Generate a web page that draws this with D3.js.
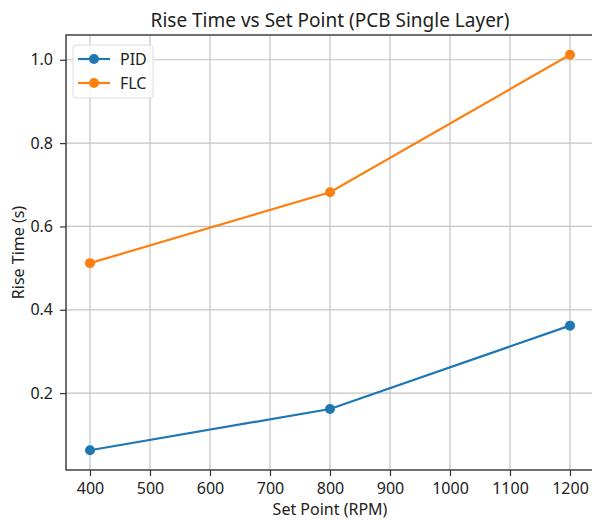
<!DOCTYPE html>
<html>
<head>
<meta charset="utf-8">
<script src="https://cdn.jsdelivr.net/npm/d3@7"></script>
<style>
  body { margin: 0; background: #fff; }
  text { font-family: "Noto Sans", sans-serif; fill: #222; }
</style>
</head>
<body>
<div id="chart"></div>
<script>
width = 592
height = 521

// data
let setPoints = [400, 800, 1200]
let pidRise = [0.063, 0.162, 0.362]
let flcRise = [0.512, 0.682, 1.012]
let xTicks = [400, 500, 600, 700, 800, 900, 1000, 1100, 1200]
let yTicks = [0.2, 0.4, 0.6, 0.8, 1.0]

let series = [
    { name: "PID", values: pidRise, color: "#1f77b4" },
    { name: "FLC", values: flcRise, color: "#ff7f0e" }
]

let margin = { left: 66, top: 35, right: -2, bottom: 51 }

let svg = d3.select("#chart")
    .append("svg")
    .attr("width", width)
    .attr("height", height)

// matplotlib style 5% padding
let xPad = (d3.max(setPoints) - d3.min(setPoints)) * 0.05
let allY = pidRise.concat(flcRise)
let yPad = (d3.max(allY) - d3.min(allY)) * 0.05

let x = d3.scaleLinear()
    .domain([d3.min(setPoints) - xPad, d3.max(setPoints) + xPad])
    .range([margin.left, width - margin.right])

let y = d3.scaleLinear()
    .domain([d3.min(allY) - yPad, d3.max(allY) + yPad])
    .range([height - margin.bottom, margin.top])

let plot = svg.append("g")

// grid
plot.append("g")
    .selectAll("line")
    .data(xTicks)
    .join("line")
    .attr("x1", d => x(d)).attr("x2", d => x(d))
    .attr("y1", y.range()[0]).attr("y2", y.range()[1])
    .attr("stroke", "#c4c4c4")
    .attr("stroke-width", 1.2)

plot.append("g")
    .selectAll("line")
    .data(yTicks)
    .join("line")
    .attr("x1", x.range()[0]).attr("x2", x.range()[1])
    .attr("y1", d => y(d)).attr("y2", d => y(d))
    .attr("stroke", "#c4c4c4")
    .attr("stroke-width", 1.2)

// axes
let xAxis = svg.append("g")
    .attr("transform", "translate(0," + y.range()[0] + ")")
    .call(d3.axisBottom(x).tickValues(xTicks).tickSize(6).tickPadding(7).tickFormat(d3.format("d")))

let yAxis = svg.append("g")
    .attr("transform", "translate(" + x.range()[0] + ",0)")
    .call(d3.axisLeft(y).tickValues(yTicks).tickSize(6).tickPadding(7).tickFormat(d3.format(".1f")))

;[xAxis, yAxis].forEach(a => {
    a.select(".domain").remove()
    a.selectAll("line").attr("stroke", "#333").attr("stroke-width", 1.2)
    a.selectAll("text").attr("font-size", 16).attr("font-family", "Noto Sans").attr("fill", "#222")
})

// frame
svg.append("rect")
    .attr("x", x.range()[0])
    .attr("y", y.range()[1])
    .attr("width", x.range()[1] - x.range()[0])
    .attr("height", y.range()[0] - y.range()[1])
    .attr("fill", "none")
    .attr("stroke", "#333")
    .attr("stroke-width", 1.4)

// lines and markers
let line = d3.line()
    .x((d, i) => x(setPoints[i]))
    .y(d => y(d))

series.forEach(s => {
    plot.append("path")
        .datum(s.values)
        .attr("d", line)
        .attr("fill", "none")
        .attr("stroke", s.color)
        .attr("stroke-width", 2.2)

    plot.append("g")
        .selectAll("circle")
        .data(s.values)
        .join("circle")
        .attr("cx", (d, i) => x(setPoints[i]))
        .attr("cy", d => y(d))
        .attr("r", 5)
        .attr("fill", s.color)
})

// legend
let legend = svg.append("g")
    .attr("transform", "translate(73,45)")

legend.append("rect")
    .attr("width", 80)
    .attr("height", 53)
    .attr("rx", 3)
    .attr("fill", "#fff")
    .attr("fill-opacity", 0.85)
    .attr("stroke", "#dcdcdc")

series.forEach((s, i) => {
    let row = legend.append("g")
        .attr("transform", "translate(0," + (14 + i * 24) + ")")
    row.append("line")
        .attr("x1", 5).attr("x2", 37)
        .attr("stroke", s.color)
        .attr("stroke-width", 2.2)
    row.append("circle")
        .attr("cx", 21)
        .attr("r", 5)
        .attr("fill", s.color)
    row.append("text")
        .attr("x", 47)
        .attr("y", 5.5)
        .attr("font-size", 16)
        .text(s.name)
})

// titles
svg.append("text")
    .attr("x", (x.range()[0] + x.range()[1]) / 2)
    .attr("y", 27)
    .attr("text-anchor", "middle")
    .attr("font-size", 19)
    .text("Rise Time vs Set Point (PCB Single Layer)")

svg.append("text")
    .attr("x", (x.range()[0] + x.range()[1]) / 2)
    .attr("y", 515)
    .attr("text-anchor", "middle")
    .attr("font-size", 16)
    .text("Set Point (RPM)")

svg.append("text")
    .attr("transform", "translate(24," + ((y.range()[0] + y.range()[1]) / 2) + ") rotate(-90)")
    .attr("text-anchor", "middle")
    .attr("font-size", 16)
    .text("Rise Time (s)")
</script>
</body>
</html>
